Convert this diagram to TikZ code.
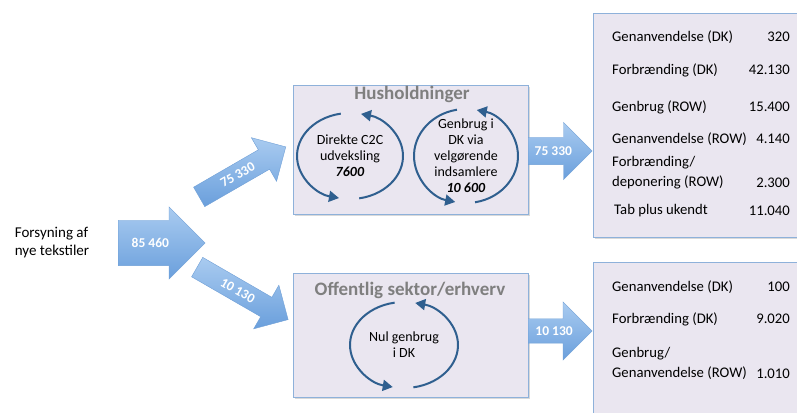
\documentclass[tikz,border=0pt]{standalone}
\usepackage{fontspec}
\setmainfont{Carlito}
\usetikzlibrary{arrows.meta, shapes.arrows, shadows, calc}

\definecolor{boxfill}{HTML}{EAE6F0}
\definecolor{boxline}{HTML}{8EB1DA}
\definecolor{arrtop}{HTML}{A9CBF0}
\definecolor{arrbot}{HTML}{6A9FDC}
\definecolor{arrline}{HTML}{6F9FD6}
\definecolor{cycblue}{HTML}{2F5F8F}
\definecolor{titlegray}{HTML}{7F7F7F}

\begin{document}
\begin{tikzpicture}[
            x=1pt, y=1pt,
            font=\fontsize{14.7}{18}\selectfont,
            flowarr/.style ={single arrow, draw=arrline, line width=0.4pt,
                             top color=arrtop, bottom color=arrbot, text=white,
                             font=\fontsize{13.5}{15}\selectfont\bfseries,
                             text height=9pt, text depth=0pt, anchor=tail},
            panel/.style   ={draw=boxline, line width=0.8pt, fill=boxfill,
                             drop shadow={shadow xshift=1.5pt, shadow yshift=-2pt,
                             opacity=0.3, fill=black!50}},
            ptitle/.style  ={font=\fontsize{19}{21}\selectfont\bfseries, text=titlegray},
            cyctxt/.style  ={align=center, font=\fontsize{14}{16}\selectfont},
            cyc/.style     ={draw=cycblue, line width=2pt,
                             -{Triangle[length=10pt, width=11pt]}},
            row/.style     ={anchor=west, inner sep=0pt, align=left},
            val/.style     ={anchor=east, inner sep=0pt}
        ]
        \useasboundingbox (0,0) rectangle (797,412);

        % source and the split
        \node[align=left, font=\fontsize{15}{18}\selectfont] (supply) at (52,169)
              {Forsyning af\\nye tekstiler};
        \node[flowarr, minimum height=87, inner ysep=18,
              single arrow head extend=13.5] (total) at (118,169) {85 460};
        \node[flowarr, rotate=30, minimum height=100, inner ysep=6.5,
              single arrow head extend=14] (tohh) at (199,215) {75 330};
        \node[flowarr, rotate=-30, minimum height=105, inner ysep=6.5,
              single arrow head extend=14] (topub) at (197,145) {10 130};

        % households
        \node[panel, minimum width=235, minimum height=129] (hush) at (410.5,262.5) {};
        \node[ptitle] (hushtitle) at (412,318) {Husholdninger};
        \node[cyctxt] (c2c) at (350,256) {Direkte C2C\\udveksling\\\textbf{\textit{7600}}};
        \node[cyctxt] (velg) at (466,256)
              {Genbrug i\\DK via\\velgørende\\indsamlere\\\textbf{\textit{10 600}}};
        \draw[cyc] ($(c2c)+(100:53 and 43)$) arc[start angle=100, end angle=258, x radius=53, y radius=43];
        \draw[cyc] ($(c2c)+(280:53 and 43)$) arc[start angle=280, end angle=438, x radius=53, y radius=43];
        \draw[cyc] ($(velg)+(100:52 and 47)$) arc[start angle=100, end angle=258, x radius=52, y radius=47];
        \draw[cyc] ($(velg)+(280:52 and 47)$) arc[start angle=280, end angle=438, x radius=52, y radius=47];

        % public sector
        \node[panel, minimum width=235, minimum height=124] (pub) at (410.5,77) {};
        \node[ptitle] (pubtitle) at (410,122) {Offentlig sektor/erhverv};
        \node[cyctxt] (nul) at (404,67) {Nul genbrug\\i DK};
        \draw[cyc] ($(nul)+(100:54 and 43)$) arc[start angle=100, end angle=258, x radius=54, y radius=43];
        \draw[cyc] ($(nul)+(280:54 and 43)$) arc[start angle=280, end angle=438, x radius=54, y radius=43];

        % outflows
        \node[flowarr, minimum height=64, inner ysep=9, inner xsep=-2pt,
              single arrow head extend=15] (hhout) at (528,261) {75 330};
        \node[flowarr, minimum height=64, inner ysep=7.5, inner xsep=-2pt,
              single arrow head extend=17] (pubout) at (528,81) {10 130};

        % destinations, households
        \node[panel, anchor=north west, minimum width=220, minimum height=224] (hhdest) at (593,399) {};
        \node[row] (h1) at (612,375) {Genanvendelse (DK)};
        \node[val] (h1v) at (790,375) {320};
        \node[row] (h2) at (612,342) {Forbrænding (DK)};
        \node[val] (h2v) at (790,342) {42.130};
        \node[row] (h3) at (612,305) {Genbrug (ROW)};
        \node[val] (h3v) at (790,305) {15.400};
        \node[row] (h4) at (612,273) {Genanvendelse (ROW)};
        \node[val] (h4v) at (790,273) {4.140};
        \node[row, font=\fontsize{14.7}{20}\selectfont] (h5) at (612,239.5) {Forbrænding/\\deponering (ROW)};
        \node[val] (h5v) at (790,229) {2.300};
        \node[row] (h6) at (614,201) {Tab plus ukendt};
        \node[val] (h6v) at (790,201) {11.040};

        % destinations, public sector
        \node[panel, anchor=north west, minimum width=220, minimum height=170] (pubdest) at (593,150) {};
        \node[row] (p1) at (612,125) {Genanvendelse (DK)};
        \node[val] (p1v) at (790,125) {100};
        \node[row] (p2) at (612,93) {Forbrænding (DK)};
        \node[val] (p2v) at (790,93) {9.020};
        \node[row, font=\fontsize{14.7}{20}\selectfont] (p3) at (612,48.5) {Genbrug/\\Genanvendelse (ROW)};
        \node[val] (p3v) at (790,38) {1.010};

    \end{tikzpicture}
\end{document}
